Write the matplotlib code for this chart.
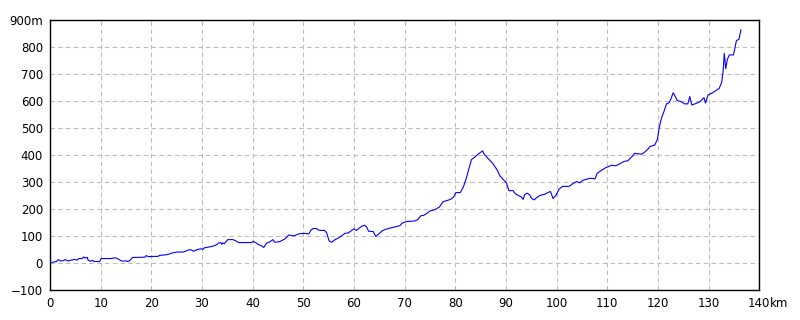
import matplotlib
matplotlib.use("Agg")
import matplotlib.pyplot as plt

plt.rcParams['font.family'] = ['Liberation Sans Narrow', 'DejaVu Sans']

dist_km = [0, 0.4, 1.3, 1.6, 2.1, 2.6, 3.0, 3.6, 4.1, 4.9, 5.3, 5.7, 6.3, 6.7, 6.9, 7.4, 7.5, 8.0, 8.4, 8.7,
           9.8, 10.1, 12.1, 12.5, 13.1, 13.6, 14.1, 15.1, 15.4, 15.7, 16.3, 18.7, 19.0, 19.4, 20.3, 21.3, 21.7,
           23.0, 23.6, 24.0, 25.0, 26.3, 26.6, 27.4, 27.6, 28.0, 28.3, 28.7, 29.2, 29.8, 30.2, 30.5, 31.2, 32.2,
           32.9, 33.2, 33.7, 33.9, 34.1, 34.4, 35.1, 36.1, 36.6, 37.3, 39.8, 40.1, 40.6, 41.1, 41.7, 42.2, 42.7,
           43.4, 44.0, 44.4, 45.4, 46.0, 46.5, 47.1, 48.1, 49.3, 50.4, 51.1, 51.5, 51.9, 52.6, 52.9, 53.5, 54.2,
           54.6, 55.1, 55.6, 56.1, 56.9, 57.5, 58.2, 58.9, 59.5, 60.0, 60.5, 61.2, 61.6, 62.1, 62.5, 62.9, 63.8,
           64.3, 64.9, 65.6, 66.4, 67.4, 68.1, 69.1, 69.5, 70.4, 72.0, 72.6, 73.2, 73.8, 74.3, 75.0, 76.0, 76.9,
           77.6, 78.3, 79.1, 79.7, 80.1, 81.0, 81.6, 82.1, 82.7, 83.2, 83.9, 84.5, 85.4, 85.7, 86.5, 87.4, 88.3,
           88.8, 89.6, 90.1, 90.6, 91.4, 91.9, 92.6, 93.1, 93.4, 93.7, 94.2, 94.7, 95.1, 95.6, 96.1, 96.8, 97.7,
           98.4, 98.8, 99.3, 99.9, 100.5, 101.2, 102.5, 103.2, 104.0, 104.5, 105.3, 106.6, 107.6, 108.0, 108.9,
           109.7, 110.9, 111.7, 112.6, 113.3, 114.1, 115.0, 115.4, 116.8, 117.4, 118.1, 118.4, 119.4, 119.9,
           120.3, 120.7, 121.2, 121.7, 122.2, 122.6, 123.0, 123.3, 123.8, 124.6, 125.3, 125.9, 126.3, 126.7,
           127.6, 128.3, 129.1, 129.4, 129.9, 130.6, 131.5, 132.1, 132.6, 132.9, 133.1, 133.4, 133.7, 134.1,
           134.9, 135.1, 135.5, 136.0, 136.4]

elev_m = [-2, 2, 5, 12, 7, 8, 12, 7, 10, 13, 10, 16, 16, 22, 18, 20, 10, 6, 10, 5,
          5, 16, 16, 18, 18, 13, 7, 7, 5, 8, 20, 21, 27, 23, 24, 24, 28,
          30, 33, 36, 40, 40, 42, 48, 49, 47, 43, 46, 50, 52, 50, 56, 58, 62,
          67, 73, 75, 69, 74, 71, 86, 86, 82, 75, 75, 80, 75, 68, 64, 57, 72,
          78, 86, 76, 79, 85, 90, 103, 100, 108, 109, 107, 121, 127, 127, 122, 120, 120,
          112, 81, 76, 84, 92, 99, 109, 111, 119, 126, 120, 131, 136, 139, 133, 117, 116,
          98, 107, 119, 125, 130, 133, 138, 147, 153, 155, 160, 174, 176, 182, 192, 197, 207,
          226, 230, 235, 244, 260, 260, 281, 308, 349, 382, 392, 402, 414, 402, 386, 368, 343,
          322, 306, 296, 267, 267, 255, 248, 243, 235, 252, 258, 251, 238, 233, 242, 250, 254,
          261, 264, 238, 250, 273, 283, 283, 293, 301, 296, 306, 313, 311, 331, 343,
          352, 361, 359, 368, 375, 378, 395, 405, 402, 410, 422, 430, 436, 457,
          504, 535, 560, 588, 592, 607, 629, 620, 601, 596, 588, 588, 615, 584,
          590, 596, 611, 591, 621, 627, 638, 645, 668, 713, 775, 718, 752, 769,
          769, 785, 822, 827, 862]

x_ticks = list(range(0, 141, 10))
x_labels = [str(v) for v in x_ticks]
y_ticks = list(range(-100, 901, 100))
y_labels = ['\u2212100'] + [str(v) for v in y_ticks[1:-1]] + ['900m']

fig = plt.figure(figsize=(8, 3.2), dpi=100)
ax = fig.add_axes([0.0625, 0.094, 0.8865, 0.845])
ax.plot(dist_km, elev_m, color='#0000ff', linewidth=0.8)
ax.set_xlim(0, 140)
ax.set_ylim(-100, 900)
ax.set_xticks(x_ticks)
ax.set_xticklabels(x_labels)
ax.set_yticks(y_ticks)
ax.set_yticklabels(y_labels)
ax.tick_params(length=0, labelsize=8.5, colors='black')
ax.tick_params(axis='x', pad=5)
ax.tick_params(axis='y', pad=5)
ax.grid(True, color='#bdbdbd', linestyle=(0, (4, 3)), linewidth=0.8)
for s in ax.spines.values():
    s.set_linewidth(1.0)
    s.set_color('black')
ax.annotate('km', xy=(1, 0), xycoords='axes fraction', xytext=(8, -5),
            textcoords='offset points', ha='left', va='top', fontsize=8.5)
fig.savefig('out.png', dpi=100)
